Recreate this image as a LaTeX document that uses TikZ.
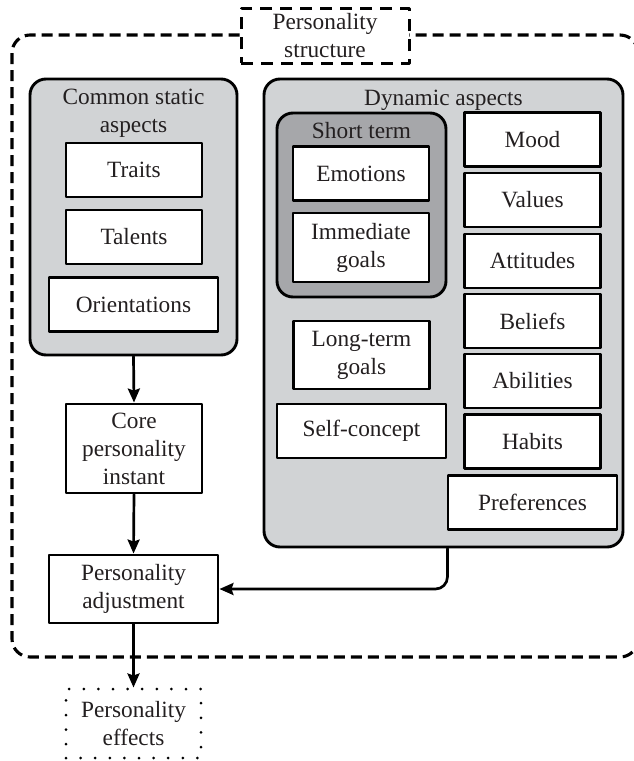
\documentclass[tikz,border=0pt]{standalone}
\usepackage{fontspec}
\setmainfont{Liberation Serif}
\usepackage{tikz}
\usetikzlibrary{calc}
\usetikzlibrary{arrows.meta}
\definecolor{d2d3d5}{rgb}{0.82,0.827,0.835}
\definecolor{a6a7aa}{rgb}{0.651,0.655,0.667}
\definecolor{231f20}{rgb}{0.137,0.122,0.125}
\tikzstyle{every node}=[font=\fontsize{23.3}{28}\selectfont, text=231f20]
\tikzset{
  box/.style={draw, line width=2.9pt, fill=white, align=center, inner sep=0pt, minimum height=54pt},
  narrow/.style={minimum width=136pt},
  wide/.style={minimum width=169pt},
  group/.style={draw, line width=2.9pt, rounded corners=16pt, inner sep=0pt},
  title/.style={align=center, inner sep=0pt},
  flow/.style={->, line width=2.7pt},
}

\begin{document}
\begin{tikzpicture}[line cap=round,line join=round,>={Stealth[length=14pt,width=12pt,inset=2pt]},x=1pt,y=-1pt]
                    \useasboundingbox (0,0) rectangle (634,761);
                    \clip (0,0) rectangle (634,761);

                    % outer frame and its label
                    \draw [line width=3.1pt, line cap=butt, dash pattern=on 11pt off 6pt, rounded corners=18pt] (12,35) rectangle (638,657);
                    \node [draw, line width=3pt, line cap=butt, dash pattern=on 12pt off 8pt, fill=white, align=center, inner sep=0pt, minimum width=168pt, minimum height=55pt] (structure) at (325,35.5) {Personality\\structure};

                    % grey groups
                    \node [group, fill=d2d3d5, minimum width=207pt, minimum height=276pt] (common) at (133.5,217) {};
                    \node [group, fill=d2d3d5, minimum width=359pt, minimum height=468pt] (dynamic) at (443.5,313) {};
                    \node [group, fill=a6a7aa, minimum width=169pt, minimum height=184pt] (shortterm) at (361.5,205) {};

                    \node [title, anchor=north] (commontitle) at (133.5,89) {Common static\\aspects};
                    \node [title, anchor=base] (dynamictitle) at (443.5,105) {Dynamic aspects};
                    \node [title, anchor=base] (shorttitle) at (361.5,138) {Short term};

                    % common static aspects
                    \node [box, narrow] (traits) at (134,170) {Traits};
                    \node [box, narrow] (talents) at (134,237) {Talents};
                    \node [box, wide] (orientations) at (133.5,304.5) {Orientations};

                    % short term
                    \node [box, narrow] (emotions) at (361,173.5) {Emotions};
                    \node [box, narrow, minimum height=69pt] (immgoals) at (361,247.5) {Immediate\\goals};

                    % other dynamic aspects
                    \node [box, narrow, minimum height=68pt] (longterm) at (361.5,355) {Long-term\\goals};
                    \node [box, wide] (selfconcept) at (361.5,431) {Self-concept};
                    \node [box, narrow] (mood) at (532.5,139.5) {Mood};
                    \node [box, narrow] (values) at (532.5,200) {Values};
                    \node [box, narrow] (attitudes) at (532.5,261) {Attitudes};
                    \node [box, narrow] (beliefs) at (532.5,321) {Beliefs};
                    \node [box, narrow] (abilities) at (532.5,381) {Abilities};
                    \node [box, narrow] (habits) at (532.5,441.5) {Habits};
                    \node [box, wide] (preferences) at (532.5,502.5) {Preferences};

                    % flow
                    \node [box, narrow, minimum height=89pt] (core) at (134,448.5) {Core\\personality\\instant};
                    \node [box, wide, minimum height=68pt] (adjust) at (133.5,589) {Personality\\adjustment};
                    \node [draw, line width=3pt, dash pattern=on 0pt off 14.6pt, align=center, inner sep=0pt, minimum width=135pt, minimum height=69pt] (effects) at (133.5,723.5) {Personality\\effects};

                    \draw [flow] (common.south) -- (core.north);
                    \draw [flow] (core.south) -- (adjust.north);
                    \draw [flow, rounded corners=12pt] (dynamic.south -| selfconcept.east) |- (adjust.east);
                    \draw [flow] (adjust.south) -- (effects.north);
                    \end{tikzpicture}
\end{document}
